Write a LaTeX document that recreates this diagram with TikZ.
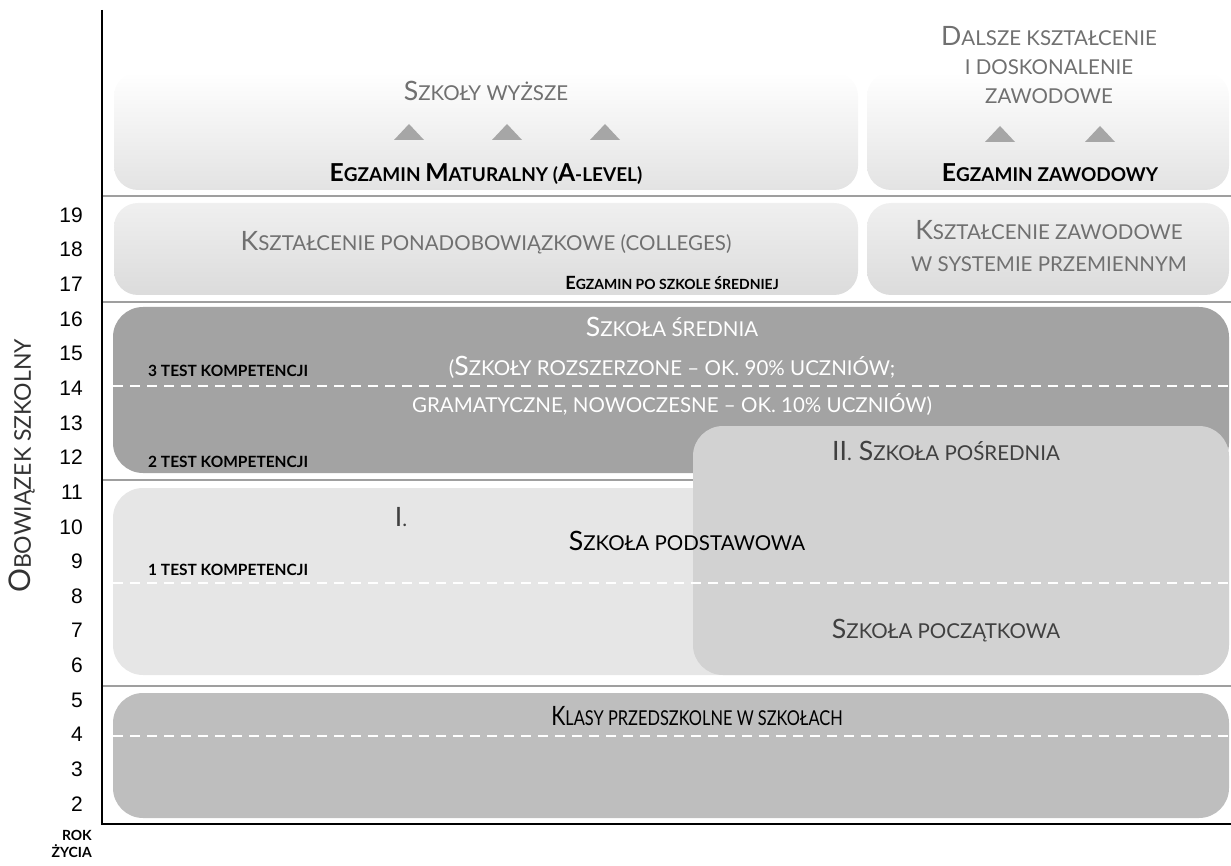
\documentclass[tikz,border=0pt]{standalone}
\usepackage{fontspec}
\setmainfont{Lato}
\newfontfamily\numfont{Liberation Sans}
\usepackage{graphicx}
\newcommand\Up[1]{\scalebox{1.3}{#1}}
\definecolor{txtgray}{HTML}{707070}
\definecolor{darkbox}{HTML}{A3A3A3}
\definecolor{lightbox}{HTML}{E6E6E6}
\definecolor{midbox}{HTML}{D2D2D2}
\definecolor{prebox}{HTML}{BEBEBE}
\tikzset{
  txt/.style={inner sep=0pt, anchor=base, font=\fontsize{20.5}{24}\selectfont},
  bold/.style={txt, font=\fontsize{19}{22}\selectfont\bfseries},
  small/.style={inner sep=0pt, anchor=base west, font=\fontsize{15.5}{18}\selectfont\bfseries},
  num/.style={inner sep=0pt, anchor=east, font=\numfont\fontsize{21}{24}\selectfont},
  sep/.style={gray!75, line width=1.6pt},
  cut/.style={white, line width=1.3pt, dash pattern=on 10pt off 7pt},
  tri/.style={fill=gray!70},
}
\begin{document}
\begin{tikzpicture}[x=1pt,y=-1pt]
  \useasboundingbox (0,0) rectangle (1231,866);
  % rows
  \shade[rounded corners=24pt, top color=white, bottom color=gray!22]
    (114,72) rectangle (858,190);
  \shade[rounded corners=24pt, top color=white, bottom color=gray!22]
    (867,72) rectangle (1229,190);
  \shade[rounded corners=24pt, top color=gray!12, bottom color=gray!28]
    (114,203) rectangle (858,295);
  \shade[rounded corners=24pt, top color=gray!12, bottom color=gray!28]
    (867,203) rectangle (1229,295);
  \fill[darkbox, rounded corners=30pt] (113,307) rectangle (1229,473);
  \fill[lightbox, rounded corners=30pt] (113,488) rectangle (1229,675);
  \draw[cut] (113,386) -- (1229,386);
  \fill[midbox, rounded corners=30pt] (693,426) rectangle (1229,675);
  \draw[cut] (113,583) -- (1229,583);
  \fill[prebox, rounded corners=30pt] (113,693) rectangle (1229,818);
  \draw[cut] (113,736) -- (1229,736);
  % separators and axes
  \draw[sep] (102,196) -- (1231,196);
  \draw[sep] (102,302) -- (1231,302);
  \draw[sep] (102,480) -- (693,480);
  \draw[sep] (102,686) -- (1231,686);
  \draw[black, line width=1.2pt] (102,10) -- (102,824) -- (1231,824);
  \foreach \n in {2,...,19}
    \node[num] (y\n) at (83,{804-(\n-2)*34.65}) {\n};
  \node[txt, anchor=center, rotate=90, font=\fontsize{23}{26}\selectfont, text=black!80]
    (axis) at (22,466) {\Up{O}BOWIĄZEK SZKOLNY};
  \node[inner sep=0pt, align=right, anchor=north east, font=\fontsize{14}{17}\selectfont\bfseries]
    (rok) at (92,830) {ROK\\ŻYCIA};
  % top row
  \node[txt, text=txtgray] (wyzsze) at (486,101) {\Up{S}ZKOŁY WYŻSZE};
  \foreach \x in {409,507,605}
    \fill[tri] (\x,124) -- ++(15,16) -- ++(-30,0) -- cycle;
  \node[bold] (matura) at (486,182) {\Up{E}GZAMIN \Up{M}ATURALNY (\Up{A}-LEVEL)};
  \node[txt, text=txtgray, align=center, anchor=north] (dalsze) at (1049,26)
    {\Up{D}ALSZE KSZTAŁCENIE\\[5pt]I DOSKONALENIE\\[5pt]ZAWODOWE};
  \foreach \x in {1000,1100}
    \fill[tri] (\x,126) -- ++(15,16) -- ++(-30,0) -- cycle;
  \node[bold] (zawodowy) at (1050,182) {\Up{E}GZAMIN ZAWODOWY};
  % second row
  \node[txt, text=txtgray] (college) at (486,251) {\Up{K}SZTAŁCENIE PONADOBOWIĄZKOWE (COLLEGES)};
  \node[small, anchor=base, font=\fontsize{14}{17}\selectfont\bfseries] (po) at (672,290) {\Up{E}GZAMIN PO SZKOLE ŚREDNIEJ};
  \node[txt, text=txtgray] (przem1) at (1049,240) {\Up{K}SZTAŁCENIE ZAWODOWE};
  \node[txt, text=txtgray] (przem2) at (1049,272) {W SYSTEMIE PRZEMIENNYM};
  % secondary school
  \node[txt, text=white] (srednia) at (672,337) {\Up{S}ZKOŁA ŚREDNIA};
  \node[txt, text=white] (sred2) at (672,375) {(\Up{S}ZKOŁY ROZSZERZONE – OK. 90\% UCZNIÓW;};
  \node[txt, text=white] (sred3) at (672,412) {GRAMATYCZNE, NOWOCZESNE – OK. 10\% UCZNIÓW)};
  \node[small] (test3) at (148,377) {3 TEST KOMPETENCJI};
  \node[small] (test2) at (148,467) {2 TEST KOMPETENCJI};
  \node[small] (test1) at (148,575) {1 TEST KOMPETENCJI};
  % primary
  \node[txt, text=black!75] (one) at (401,526) {\Up{I}.};
  \node[txt] (podst) at (687,550) {\Up{S}ZKOŁA PODSTAWOWA};
  \node[txt, text=black!75] (posr) at (946,460) {\Up{I}\Up{I}. \Up{S}ZKOŁA POŚREDNIA};
  \node[txt, text=black!75] (pocz) at (946,638) {\Up{S}ZKOŁA POCZĄTKOWA};
  \node[txt] (przed) at (697,725) {\scalebox{0.8}[1]{\Up{K}LASY PRZEDSZKOLNE W SZKOŁACH}};
\end{tikzpicture}
\end{document}
